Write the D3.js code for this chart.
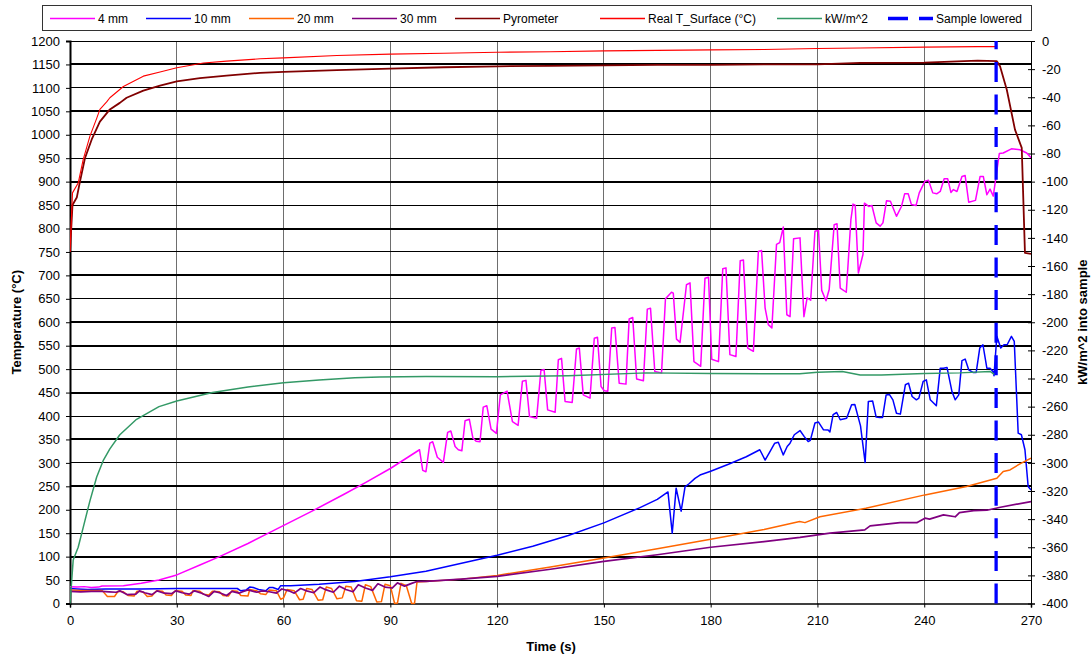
<!DOCTYPE html>
<html>
<head>
<meta charset="utf-8">
<script src="https://cdn.jsdelivr.net/npm/d3@7"></script>
<style>
  body { margin: 0; background: #fff; }
  svg text { font-family: "Liberation Sans", Arial, sans-serif; }
</style>
</head>
<body>
<div id="chart"></div>
<script>
// ------------------------------- DATA ---------------------------------------
// time (s) and temperature (°C) per thermocouple / pyrometer
var time4mm = [0, 2, 4, 6, 8, 9, 15, 20, 25, 30, 36.5, 42, 50, 57, 68, 77, 83, 90, 98.2,
  99.1, 100, 101.1, 101.9, 103.2, 104.9, 106.1, 107, 108.2, 109.1, 110.1, 111, 112.2, 113.2, 114.1, 115.2,
  116.1, 117.1, 118.3, 119.8, 120.9, 122.8, 124.3, 125.9, 127.1, 128.1, 129.1, 131.1, 132.3, 133.2,
  134.2, 136.3, 137.2, 138.1, 139.1, 141.1, 142.3, 143.1, 144.2, 146.1, 147.3, 148.2, 149.2, 150.1,
  151.1, 152.2, 153.1, 154.3, 156.2, 157.1, 158.1, 159.2, 161.1, 162.2, 163.1, 164.3, 166.2, 167.3,
  169, 169.5, 170.4, 171.4, 173.2, 174.2, 175.3, 177.2, 178.4, 179.4, 180.3, 182.2, 183.4, 184.3,
  185.4, 187.1, 188.3, 189.2, 190.4, 192, 193.4, 194.3, 195.3, 196.2, 197.2, 198.5, 199.4, 200.4,
  201.4, 202.3, 203.3, 205.1, 206.2, 207.1, 208.1, 209.3, 210.3, 211.2, 212.4, 213.3, 214.7, 215.5,
  216.4, 218.1, 219.4, 220, 220.6, 221.5, 222.8, 223.2, 224.4, 225.3, 226.5, 227.6, 228.4, 229.4,
  230.5, 232.2, 233.6, 234.5, 235.5, 236.4, 237.7, 238.6, 240.2, 241.2, 242.4, 243.5, 244.5, 245.6,
  246.6, 247.5, 248.2, 249.2, 250.6, 251.5, 252.5, 254.4, 255.7, 256.6, 257.6, 258.5, 259.4, 261.1,
  262.2, 264.5, 266.9, 268.8, 270];
var temp4mm = [36, 35, 36, 34, 35, 37.5, 38, 43, 50, 61, 82, 100, 128, 155, 197, 233, 258, 288, 328,
  284, 281, 342, 345, 312, 301, 365, 368, 335, 328, 326, 390, 393, 353, 346, 345,
  419, 422, 372, 363, 445, 453, 388, 380, 474, 476, 399, 395, 497, 499,
  413, 408, 520, 523, 431, 429, 543, 545, 445, 438, 566, 568, 463, 454,
  453, 588, 589, 470, 468, 607, 610, 479, 475, 628, 630, 495, 492, 650,
  664, 662, 564, 557, 680, 684, 516, 506, 694, 696, 521, 516, 714, 716,
  531, 527, 731, 733, 545, 538, 751, 753, 630, 595, 588, 766, 770, 803,
  616, 612, 778, 780, 612, 652, 647, 794, 796, 668, 646, 670, 808, 810,
  673, 664, 819, 852, 850, 705, 745, 854, 847, 849, 812, 805, 812, 859,
  858, 826, 847, 874, 874, 851, 849, 876, 901, 903, 876, 874, 879, 906,
  906, 877, 883, 879, 911, 913, 856, 860, 911, 911, 872, 884, 869, 960,
  961, 970, 968, 961, 951];

var time10mm = [0, 2, 5, 10, 20, 30, 40, 47, 48, 49.5, 50.5, 51.5, 53, 55, 56, 57, 58.5, 59.2, 62,
  70, 80, 90, 100, 110, 120, 130, 140, 150, 160, 165, 168, 169.2, 170.3, 171.7, 172.8, 174, 175.6,
  177, 180, 185, 190, 193.8, 195.3, 196.5, 198, 199, 200.4, 201.5, 202.3, 203.5, 205.1, 206.3,
  207.4, 208, 209.3, 210.3, 211.7, 213, 213.5, 214.4, 215.4, 216.4, 218.2, 219.6, 220.5, 222.1,
  223.4, 224.3, 225.5, 226.5, 227.5, 228.3, 229.3, 230.2, 231.2, 232.2, 233.3, 234.7, 235.6,
  236.6, 237.8, 238.5, 239.7, 240.6, 241.7, 243.4, 244.5, 245.4, 246.4, 247.8, 248.7, 249.7,
  250.6, 251.5, 252.5, 253.7, 254.6, 255.6, 256.5, 257.6, 258.5, 259.3, 259.6, 260.4, 261.5,
  262.4, 263.3, 264.5, 265.3, 266.4, 267.3, 268.3, 269.2, 270];
var temp10mm = [32, 31, 30, 31, 31, 32, 32, 32, 27, 29, 35, 34, 30, 27, 34, 34, 30, 38, 38,
  41, 47, 57, 69, 86, 103, 122, 145, 172, 204, 222, 238, 150, 246, 197, 249, 256, 267,
  274, 282, 297, 313, 328, 306, 322, 342, 344, 317, 335, 342, 360, 369, 356,
  345.5, 348, 385, 387, 370.5, 370, 366, 403, 407.5, 392, 395, 424, 424.5, 379,
  300.7, 431, 432, 397.6, 397, 397, 445, 446, 434.5, 406, 404, 466.6, 470,
  441.6, 434.5, 438, 473.6, 477, 434.5, 421.7, 502, 502, 503.6, 452, 434.5, 445,
  518, 521.5, 498.6, 493, 493, 545, 552, 502, 502, 495, 486, 570, 545,
  552, 552, 570, 559, 363.4, 360, 328, 249.5, 242];

var time20mm = [0, 3, 6, 9, 10.5, 12.5, 13.5, 15, 16.3, 18, 18.8, 20.5, 21.7, 23, 24.3, 26, 27, 28.5,
  29.5, 31.5, 32.5, 34, 34.5, 36.5, 37.5, 39, 40, 42, 43, 44.5, 45.5, 47, 48, 50, 50.5, 52.5, 53.5,
  55, 56, 58, 59.2, 60, 61, 63, 64.5, 65.5, 66.5, 68, 69.7, 71, 72, 73.5, 75, 76.5, 77.5, 79, 80.5,
  82, 83, 84.5, 86.2, 87.5, 88.5, 90, 91.2, 92, 93, 94.5, 96, 96.8, 97.5, 100, 110, 120, 135, 150,
  165, 180, 195, 205, 206.5, 210.7, 223.6, 240.2, 251.9, 260.4, 262.2, 264.1, 266.9, 270];
var temp20mm = [29, 28, 28, 28, 15, 15, 26, 25, 17, 16, 26, 25, 15, 16, 27, 26, 18, 17,
  27, 26, 18, 17, 27, 26, 20, 18, 26, 25, 17, 16, 27, 26, 17, 16, 30, 27, 21,
  19, 29, 27, 9, 12, 30, 27, 8, 9, 32, 30, 7, 8, 35, 32, 10, 12, 37, 35, 6,
  5, 40, 36, 3, 4, 41, 38, 0, 1, 43, 38, 0, 0, 46, 47, 52, 60, 78, 97,
  117, 137, 158, 175, 172.5, 185, 203, 231.7, 249.4, 267, 281.4, 285, 298, 310];

var time30mm = [0, 3, 6, 9, 11, 13, 14, 16, 18.5, 19.5, 21, 23, 24.5, 26.5, 28.5, 29.8, 31.5, 33.5, 35,
  37, 39, 40.5, 42, 44, 45.5, 47.5, 48.5, 50, 52.5, 54, 56, 58, 59.5, 61.5, 63, 64.8, 66.5, 68.5,
  70.2, 72, 74, 75.7, 77.5, 79.5, 81, 83, 85, 86.5, 88.5, 90.5, 92, 94, 96, 97.5, 100, 110, 120,
  135, 150, 165, 180, 195, 205.1, 213.5, 223.3, 224.8, 233.2, 237.9, 240.2, 241.5, 245.4, 248.7,
  249.9, 253.9, 257.6, 261.4, 270];
var temp30mm = [26, 25, 26, 26, 25, 24, 27, 19, 20, 27, 23, 19, 27, 22, 21, 27, 23, 20, 27,
  22, 15, 26, 23, 17, 26, 22, 25, 29, 24, 27, 25, 22, 31, 27, 22, 32, 27, 23,
  35, 29, 24, 37, 30, 25, 40, 33, 28, 42, 35, 33, 44, 37, 43, 47, 47, 52, 58,
  73, 90, 104, 120, 132, 141, 150, 157, 165.5, 172.5, 172.5, 182, 180, 189, 185,
  194, 198, 199, 205.4, 217.4];

var timePyro = [0, 0.7, 1.9, 2.8, 4.2, 6.1, 8.4, 11.2, 14, 15.9, 20.6, 25.3, 30, 36.5, 44, 53.4, 60, 75,
  90, 105, 120, 135, 150, 165, 180, 195, 210, 222, 240, 255, 260.4, 261.3, 263.2, 265.5, 267.4,
  268.3, 270];
var tempPyro = [750, 850, 866, 900, 950, 990, 1028, 1054, 1068, 1079, 1094, 1105, 1114, 1121, 1126, 1132,
  1134, 1138, 1141, 1144, 1146, 1147, 1148, 1149, 1149, 1150, 1150, 1153.5, 1154, 1158, 1157, 1146,
  1096, 1011, 972, 748, 746];

var timeSurf = [0, 0.7, 2.3, 3.7, 5.6, 7.5, 8.4, 10.3, 11.2, 15, 20.6, 25.3, 30, 37.5, 44, 53.4, 60, 75,
  90, 105, 120, 135, 150, 165, 180, 195, 210, 222, 240, 255, 260];
var tempSurf = [750, 876, 897, 947, 997, 1035, 1054, 1070, 1079, 1103, 1125, 1134, 1143, 1153, 1157, 1162,
  1164, 1169, 1172, 1174, 1176, 1177, 1179, 1180, 1181, 1182, 1184, 1185, 1187, 1188, 1188];

// heat flux into sample (kW/m^2), secondary axis
var timeFlux = [0, 0.9, 2.3, 3.7, 5.6, 7.5, 9.4, 11.2, 14, 18.7, 25, 30, 40, 50, 60, 70, 80, 87, 100,
  120, 140, 162, 180, 205, 210, 217, 222, 228, 240, 250, 258.5, 259.7];
var fluxValues = [-400, -369, -360, -346, -327, -310, -298, -290, -280, -269, -260, -256, -250, -246,
  -243, -241, -239.5, -239, -238.5, -238.7, -238, -236, -236.5, -236.7, -235.5, -235, -237.5, -237.5,
  -236.5, -236, -235, -237];

var sampleLoweredTime = 260.2;

var timeTicks = [0, 30, 60, 90, 120, 150, 180, 210, 240, 270];
var tempTicks = d3.range(0, 1201, 50);
var fluxTicks = d3.range(-400, 1, 20);

var seriesNames = ["4 mm", "10 mm", "20 mm", "30 mm", "Pyrometer", "Real T_Surface (°C)", "kW/m^2", "Sample lowered"];

// ------------------------------ CANVAS --------------------------------------
var svgWidth = 1092, svgHeight = 660;
var plot = {left: 70, right: 1031, top: 41, bottom: 603.5};

var svg = d3.select("#chart").append("svg")
  .attr("width", svgWidth)
  .attr("height", svgHeight);

var xScale = d3.scaleLinear().domain([0, 270]).range([plot.left, plot.right]);
var yLeft = d3.scaleLinear().domain([0, 1200]).range([plot.bottom, plot.top]);
var yRight = d3.scaleLinear().domain([-400, 0]).range([plot.bottom, plot.top]);

// ------------------------------ GRID ----------------------------------------
svg.append("g").selectAll("line")
  .data(timeTicks.slice(1, -1))
  .enter().append("line")
    .attr("x1", d => xScale(d)).attr("x2", d => xScale(d))
    .attr("y1", plot.top).attr("y2", plot.bottom)
    .attr("stroke", "#6e6e6e")
    .attr("stroke-width", 1)
    .attr("shape-rendering", "crispEdges");

// the scanned gridlines come out either one or two pixels thick
var heavyLines = [1150, 1050, 900, 800, 700, 600, 550, 450, 350, 250, 100];
svg.append("g").selectAll("line")
  .data(tempTicks.slice(1))
  .enter().append("line")
    .attr("x1", plot.left).attr("x2", plot.right)
    .attr("y1", d => yLeft(d)).attr("y2", d => yLeft(d))
    .attr("stroke", "#000")
    .attr("stroke-width", d => heavyLines.includes(d) ? 2 : 1)
    .attr("shape-rendering", "crispEdges");

// ------------------------------ AXES ----------------------------------------
var fmt = d => String(d);

var gLeft = svg.append("g")
  .attr("transform", `translate(${plot.left},0)`)
  .call(d3.axisLeft(yLeft).tickValues(tempTicks).tickSize(4).tickPadding(6).tickFormat(fmt));

var gBottom = svg.append("g")
  .attr("transform", `translate(0,${plot.bottom})`)
  .call(d3.axisBottom(xScale).tickValues(timeTicks).tickSize(4).tickPadding(8).tickFormat(fmt));

var gRight = svg.append("g")
  .attr("transform", `translate(${plot.right},0)`)
  .call(d3.axisRight(yRight).tickValues(fluxTicks).tickSize(4).tickPadding(7).tickFormat(fmt));
// ticks cross the secondary axis
gRight.selectAll(".tick line").attr("x1", -3);

[gLeft, gBottom, gRight].forEach(function(g) {
  g.select(".domain").attr("stroke", "#000");
  g.selectAll(".tick line").attr("stroke", "#000");
  g.selectAll("text").style("font-size", "13px").attr("fill", "#000");
  g.attr("font-family", null);
});
gLeft.select(".domain").attr("stroke-width", 2);
gBottom.select(".domain").attr("stroke-width", 1.5);

// axis titles
svg.append("text")
  .attr("x", 551)
  .attr("y", 651)
  .attr("text-anchor", "middle")
  .style("font-size", "13px").style("font-weight", "bold")
  .text("Time (s)");

svg.append("text")
  .attr("transform", `translate(21,${(plot.top + plot.bottom) / 2}) rotate(-90)`)
  .attr("text-anchor", "middle")
  .style("font-size", "13px").style("font-weight", "bold")
  .text("Temperature (°C)");

svg.append("text")
  .attr("transform", `translate(1087,${(plot.top + plot.bottom) / 2}) rotate(-90)`)
  .attr("text-anchor", "middle")
  .style("font-size", "13px").style("font-weight", "bold")
  .text("kW/m^2 into sample");

// ------------------------------ SERIES --------------------------------------
function zipSeries(ts, vs) { return ts.map((t, i) => [t, vs[i]]); }

var series = [
  {name: seriesNames[0], data: zipSeries(time4mm, temp4mm), color: "#ff00ff", width: 1.5, y: yLeft},
  {name: seriesNames[1], data: zipSeries(time10mm, temp10mm), color: "#0000ff", width: 1.5, y: yLeft},
  {name: seriesNames[2], data: zipSeries(time20mm, temp20mm), color: "#ff6600", width: 1.5, y: yLeft},
  {name: seriesNames[3], data: zipSeries(time30mm, temp30mm), color: "#800080", width: 1.7, y: yLeft},
  {name: seriesNames[4], data: zipSeries(timePyro, tempPyro), color: "#800000", width: 1.8, y: yLeft},
  {name: seriesNames[5], data: zipSeries(timeSurf, tempSurf), color: "#ff0000", width: 1.1, y: yLeft},
  {name: seriesNames[6], data: zipSeries(timeFlux, fluxValues), color: "#339966", width: 1.5, y: yRight}
];

svg.append("clipPath").attr("id", "plotClip")
  .append("rect")
    .attr("x", plot.left).attr("y", plot.top - 2)
    .attr("width", plot.right - plot.left).attr("height", plot.bottom - plot.top + 3);

var linesGroup = svg.append("g").attr("clip-path", "url(#plotClip)");

series.forEach(function(s) {
  var line = d3.line().x(d => xScale(d[0])).y(d => s.y(d[1]));
  linesGroup.append("path")
    .datum(s.data)
    .attr("d", line)
    .attr("fill", "none")
    .attr("stroke", s.color)
    .attr("stroke-width", s.width)
    .attr("stroke-linejoin", "round");
});

// Sample lowered marker (drawn bottom to top so the dash starts at -400)
linesGroup.append("line")
  .attr("x1", xScale(sampleLoweredTime)).attr("x2", xScale(sampleLoweredTime))
  .attr("y1", yRight(-400)).attr("y2", yRight(0))
  .attr("stroke", "#0000ff")
  .attr("stroke-width", 3.3)
  .attr("stroke-dasharray", "20,12.6");

// ------------------------------ LEGEND --------------------------------------
var legend = svg.append("g");
legend.append("rect")
  .attr("x", 42.5).attr("y", 5.5)
  .attr("width", 989).attr("height", 25)
  .attr("fill", "#fff").attr("stroke", "#333").attr("stroke-width", 1);

var legendStarts = [50, 146, 249, 352, 455, 600, 777, 888];
var legendColors = ["#ff00ff", "#0000ff", "#ff6600", "#800080", "#800000", "#ff0000", "#339966", "#0000ff"];

seriesNames.forEach(function(name, i) {
  var x0 = legendStarts[i];
  var dashed = i === 7;
  legend.append("line")
    .attr("x1", x0).attr("x2", x0 + 45)
    .attr("y1", 18.5).attr("y2", 18.5)
    .attr("stroke", legendColors[i])
    .attr("stroke-width", dashed ? 3.3 : 1.5)
    .attr("stroke-dasharray", dashed ? "20,11" : null);
  legend.append("text")
    .attr("x", x0 + 48).attr("y", 23)
    .style("font-size", "12px")
    .text(name);
});
</script>
</body>
</html>
